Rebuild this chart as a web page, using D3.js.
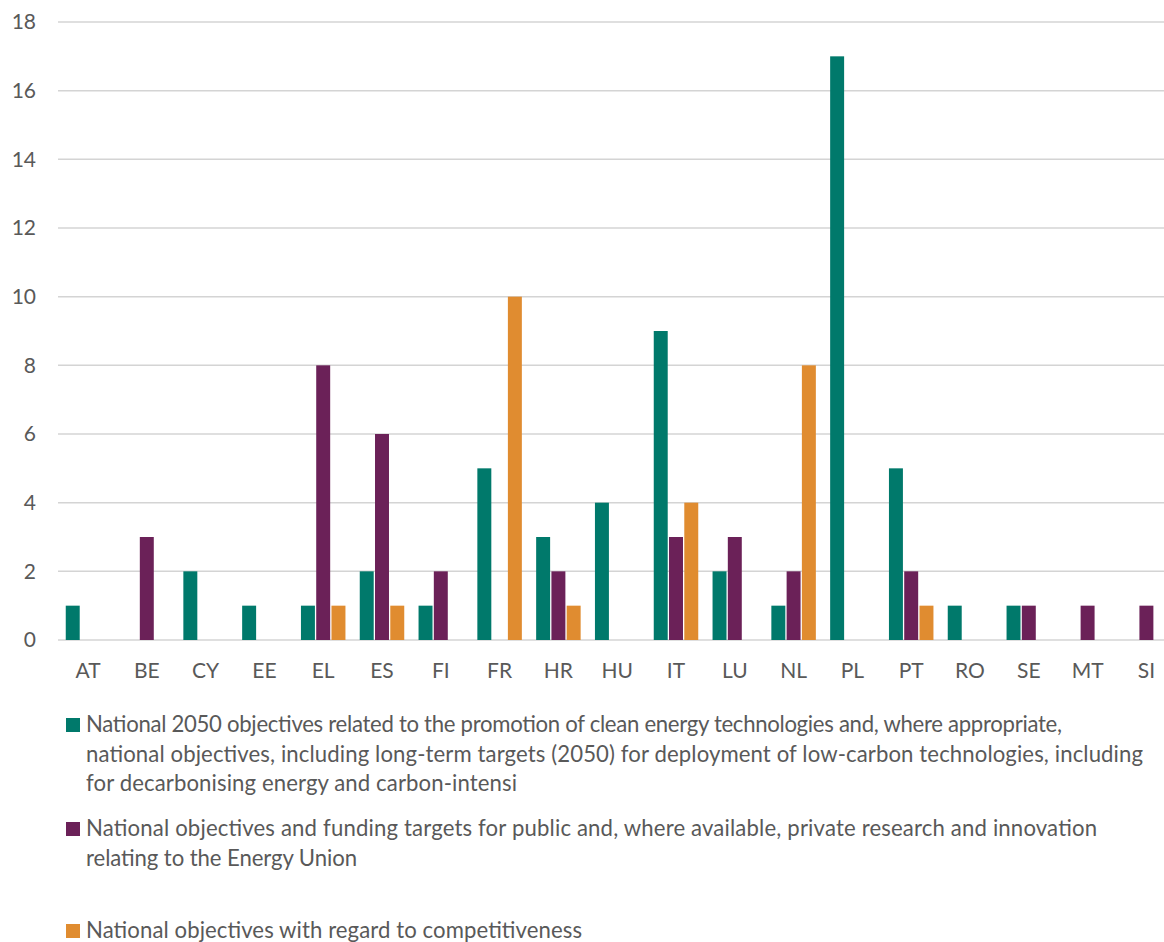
<!DOCTYPE html>
<html>
<head>
<meta charset="utf-8">
<script src="https://cdn.jsdelivr.net/npm/d3@7"></script>
<style>
  html, body { margin: 0; padding: 0; background: #fff; }
  svg { display: block; font-family: Lato, "Open Sans", sans-serif; }
</style>
</head>
<body>
<svg id="chart" width="1164" height="942"></svg>
<script>
// Member states
const categories = ["AT","BE","CY","EE","EL","ES","FI","FR","HR","HU","IT","LU","NL","PL","PT","RO","SE","MT","SI"];

// Number of objectives per member state, one array per objective type
const cleanEnergyTech = [1,0,2,1,1,2,1,5,3,4,9,2,1,17,5,1,1,0,0];
const researchInnovation = [0,3,0,0,8,6,2,0,2,0,3,3,2,0,2,0,1,1,1];
const competitiveness = [0,0,0,0,1,1,0,10,1,0,4,0,8,0,1,0,0,0,0];

const seriesNames = [
  "National 2050 objectives related to the promotion of clean energy technologies and, where appropriate, national objectives, including long-term targets (2050) for deployment of low-carbon technologies, including for decarbonising energy and carbon-intensi",
  "National objectives and funding targets for public and, where available, private research and innovation relating to the Energy Union",
  "National objectives with regard to competitiveness"
];
// Wrapped legend lines
const legendLines = [
  ["National 2050 objectives related to the promotion of clean energy technologies and, where appropriate,",
   "national objectives, including long-term targets (2050) for deployment of low-carbon technologies, including",
   "for decarbonising energy and carbon-intensi"],
  ["National objectives and funding targets for public and, where available, private research and innovation",
   "relating to the Energy Union"],
  ["National objectives with regard to competitiveness"]
];
const yTicks = [0,2,4,6,8,10,12,14,16,18];

const colors = ["#00796b", "#6b2158", "#e08c30"];
const seriesValues = [cleanEnergyTech, researchInnovation, competitiveness];

const svg = d3.select("#chart");
const textColor = "#595959";

const y = d3.scaleLinear().domain([0, 18]).range([640, 22]);
const x0 = d3.scaleBand().domain(categories).range([58.6, 1175.8]).paddingInner(0).paddingOuter(0);
const x1 = d3.scaleBand().domain(d3.range(3)).range([6.5, x0.bandwidth() - 6.5]);

// Horizontal gridlines
svg.append("g")
  .selectAll("line")
  .data(yTicks)
  .join("line")
  .attr("x1", 58)
  .attr("x2", 1176)
  .attr("y1", d => y(d))
  .attr("y2", d => y(d))
  .attr("stroke", "#d4d4d4")
  .attr("stroke-width", 1.5);

// Y axis labels
const yAxis = d3.axisLeft(y).tickValues(yTicks).tickSize(0).tickPadding(0);
svg.append("g")
  .attr("transform", "translate(36,0)")
  .call(yAxis)
  .call(g => g.select(".domain").remove())
  .call(g => g.selectAll("text")
    .attr("fill", textColor)
    .attr("font-size", 21)
    .attr("font-family", "Lato, sans-serif"));

// Bars
const groups = svg.append("g")
  .selectAll("g")
  .data(categories)
  .join("g")
  .attr("transform", d => `translate(${x0(d)},0)`);

groups.selectAll("rect")
  .data((c, i) => seriesValues.map((vals, s) => ({ s, v: vals[i] })).filter(d => d.v > 0))
  .join("rect")
  .attr("x", d => x1(d.s) + 0.65)
  .attr("width", x1.bandwidth() - 1.3)
  .attr("y", d => y(d.v))
  .attr("height", d => y(0) - y(d.v))
  .attr("fill", d => colors[d.s]);

// X axis labels
const xAxis = d3.axisBottom(x0).tickSize(0).tickPadding(0);
svg.append("g")
  .attr("transform", "translate(0,663)")
  .call(xAxis)
  .call(g => g.select(".domain").remove())
  .call(g => g.selectAll("text")
    .attr("fill", textColor)
    .attr("font-size", 21)
    .attr("font-family", "Lato, sans-serif"));

// Legend
const legendTop = [718, 822, 924];
const lineGap = 29.5;
// Rendered width of each wrapped line
const lineWidths = [[976, 1057, 431], [1011, 271], [496]];
const legend = svg.append("g");
legendLines.forEach((lines, s) => {
  const g = legend.append("g").attr("transform", `translate(66,${legendTop[s]})`);
  g.append("rect").attr("width", 14).attr("height", 14).attr("fill", colors[s]);
  g.append("title").text(seriesNames[s]);
  lines.forEach((t, k) => {
    g.append("text")
      .attr("class", "lg")
      .attr("x", 20)
      .attr("y", 14 + k * lineGap)
      .attr("fill", textColor)
      .attr("font-size", 20)
      .datum(lineWidths[s][k])
      .text(t);
  });
});
// Size legend text so the lines span their widths, then even out spacing per line
let natural = 0, target = 0;
legend.selectAll("text.lg").each(function(wd) { natural += this.getComputedTextLength(); target += wd; });
const fs = 20 * target / natural;
legend.selectAll("text.lg")
  .attr("font-size", fs)
  .attr("textLength", d => d)
  .attr("lengthAdjust", "spacing");
</script>
</body>
</html>
